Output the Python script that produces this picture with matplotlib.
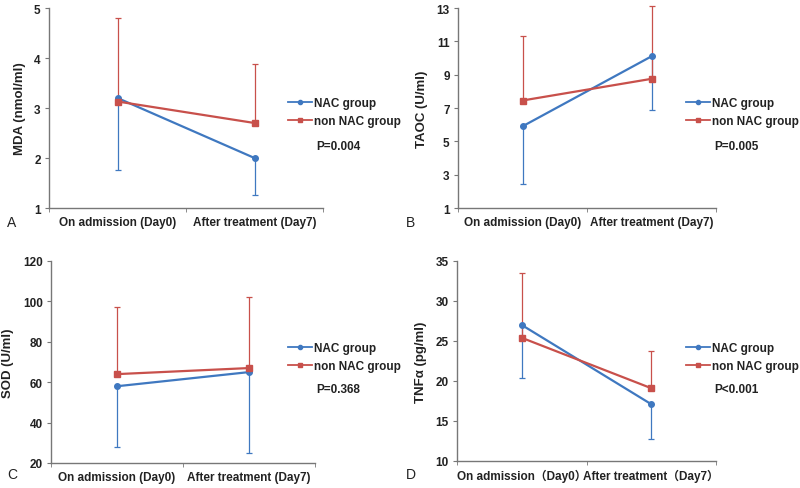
import matplotlib
matplotlib.use("Agg")
import matplotlib.pyplot as plt

plt.rcParams['font.family'] = ['Liberation Sans', 'Noto Sans CJK SC', 'DejaVu Sans']

groups = ["NAC group", "non NAC group"]
days_ab = ["On admission (Day0)", "After treatment (Day7)"]
days_d = ["On admission\uff08Day0\uff09", "After treatment\uff08Day7\uff09"]

# means, NAC lower error end, non NAC upper error end
mda_nac = [3.2, 2.0]
mda_nac_low = [1.77, 1.27]
mda_non = [3.13, 2.7]
mda_non_high = [4.8, 3.88]

taoc_nac = [5.9, 10.1]
taoc_nac_low = [2.45, 6.9]
taoc_non = [7.45, 8.75]
taoc_non_high = [11.35, 13.15]

sod_nac = [58, 65]
sod_nac_low = [28, 25]
sod_non = [64, 67]
sod_non_high = [97, 102]

tnf_nac = [27.0, 17.1]
tnf_nac_low = [20.4, 12.8]
tnf_non = [25.4, 19.1]
tnf_non_high = [33.5, 23.8]

panels = [
    ("A", "MDA (nmol/ml)", days_ab, mda_nac, mda_nac_low, mda_non, mda_non_high, (1, 5), [1, 2, 3, 4, 5], "P=0.004",
     [49, 9, 323, 209]),
    ("B", "TAOC (U/ml)", days_ab, taoc_nac, taoc_nac_low, taoc_non, taoc_non_high, (1, 13), [1, 3, 5, 7, 9, 11, 13], "P=0.005",
     [458, 9, 716, 209]),
    ("C", "SOD (U/ml)", days_ab, sod_nac, sod_nac_low, sod_non, sod_non_high, (20, 120), [20, 40, 60, 80, 100, 120], "P=0.368",
     [51, 262, 315, 464]),
    ("D", "TNF\u03b1 (pg/ml)", days_d, tnf_nac, tnf_nac_low, tnf_non, tnf_non_high, (10, 35), [10, 15, 20, 25, 30, 35], "P<0.001",
     [457, 262, 716, 462]),
]

blue = "#3f78c0"
red = "#c8504b"
W, H = 800, 489

fig = plt.figure(figsize=(8, 4.89), dpi=100)

for letter, ylab, cats, nac, nac_low, non, non_high, ylim, yticks, ptxt, box in panels:
    x0, y0, x1, y1 = box
    ax = fig.add_axes([x0 / W, 1 - y1 / H, (x1 - x0) / W, (y1 - y0) / H])
    xs = [1, 2]
    for yv, ends, col, below in [(nac, nac_low, blue, True), (non, non_high, red, False)]:
        d = [abs(m - e) for m, e in zip(yv, ends)]
        err = [d, [0, 0]] if below else [[0, 0], d]
        eb = ax.errorbar(xs, yv, yerr=err, fmt="none", ecolor=col, elinewidth=0.9,
                         capsize=2, capthick=0.9, zorder=2)
        for art in eb.lines[1] + eb.lines[2]:
            art.set_clip_on(False)
    ax.plot(xs, nac, color=blue, lw=1.6, marker="o", ms=4, label=groups[0], zorder=3)
    ax.plot(xs, non, color=red, lw=1.6, marker="s", ms=4, label=groups[1], zorder=3)

    ax.set_xlim(0.5, 2.5)
    ax.set_ylim(*ylim)
    ax.set_yticks(yticks)
    ax.set_yticklabels([str(t) for t in yticks], fontsize=8.5, fontweight="bold", color="#222222")
    ax.set_xticks(xs)
    ax.set_xticklabels(cats, fontsize=8.5, fontweight="bold", color="#222222")
    ax.set_xticks([0.5, 1.5, 2.5], minor=True)
    ax.tick_params(axis="x", which="major", length=0, pad=6)
    ax.tick_params(axis="x", which="minor", length=3, color="#777777", direction="out")
    ax.tick_params(axis="y", length=3, color="#777777", pad=3)
    for s in ["top", "right"]:
        ax.spines[s].set_visible(False)
    for s in ["left", "bottom"]:
        ax.spines[s].set_color("#777777")
        ax.spines[s].set_linewidth(1.0)
    ax.set_ylabel(ylab, fontsize=9.5, fontweight="bold", color="#222222", labelpad=6)

    lgx = 288 if x0 < 400 else 686
    lgy = 98 if y0 < 100 else 343
    leg = ax.legend(loc="upper left", bbox_to_anchor=((lgx - x0) / (x1 - x0), 1 - (lgy - y0) / (y1 - y0)),
                    frameon=False, fontsize=8.5, handlelength=2.0, handletextpad=0.2,
                    labelspacing=0.55, borderaxespad=0, borderpad=0)
    for t in leg.get_texts():
        t.set_fontweight("bold")
        t.set_color("#222222")
    for ln in leg.get_lines():
        ln.set_markersize(3)
        ln.set_linewidth(1.3)

    px = 316 if x0 < 400 else 714
    py = 147 if y0 < 100 else 390
    fig.text(px / W, 1 - py / H, ptxt, fontsize=8.5, fontweight="bold", color="#222222", va="center")
    lx = 7 if x0 < 400 else 406
    ly = 223 if y0 < 100 else 475
    fig.text(lx / W, 1 - ly / H, letter, fontsize=10, color="#222222", va="center")

fig.savefig("out.png", dpi=100)
